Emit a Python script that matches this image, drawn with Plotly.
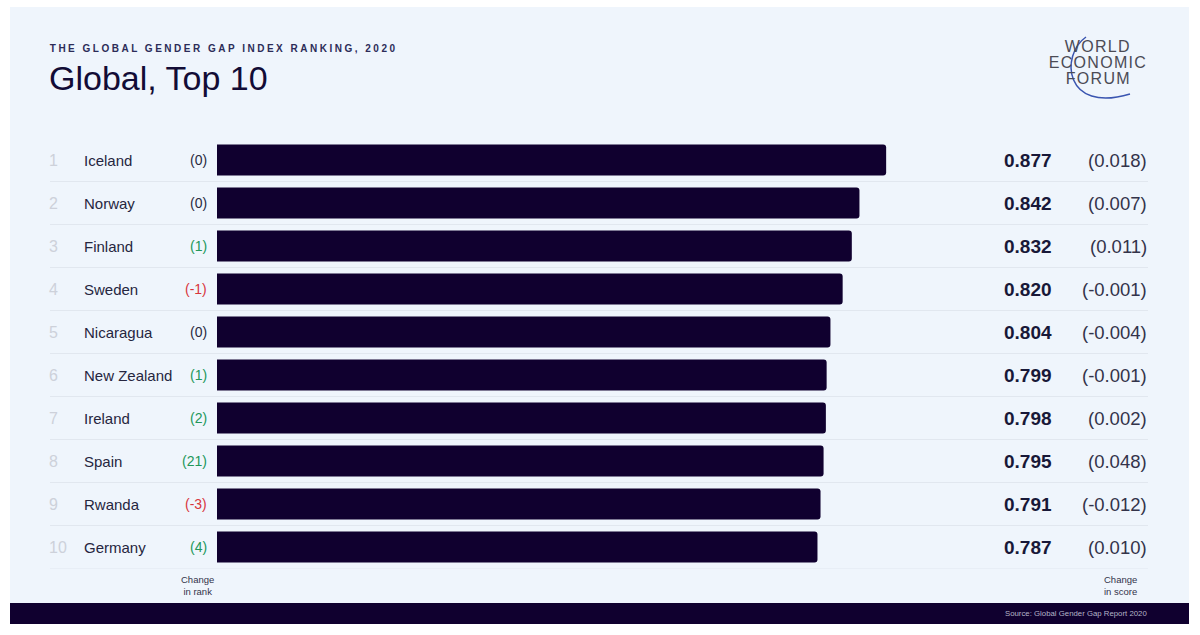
import plotly.graph_objects as go

# Global Gender Gap Index 2020, top 10
ranks = [1, 2, 3, 4, 5, 6, 7, 8, 9, 10]
countries = ["Iceland", "Norway", "Finland", "Sweden", "Nicaragua",
             "New Zealand", "Ireland", "Spain", "Rwanda", "Germany"]
rank_change = [0, 0, 1, -1, 0, 1, 2, 21, -3, 4]
scores = [0.877, 0.842, 0.832, 0.820, 0.804, 0.799, 0.798, 0.795, 0.791, 0.787]
score_change = [0.018, 0.007, 0.011, -0.001, -0.004, -0.001, 0.002, 0.048, -0.012, 0.010]
logo_lines = ["WORLD", "ECONOMIC", "FORUM"]

W, H = 1200, 635
NAVY = "#10002f"
PANEL = "#eff5fc"
FONT = "Liberation Sans, Arial, sans-serif"


def px(x):
    return x / W


def py(y):
    return 1 - y / H


def rank_color(v):
    if v > 0:
        return "#22975a"
    if v < 0:
        return "#d8353d"
    return "#2a2a40"


fig = go.Figure()

fig.add_trace(go.Bar(
    x=scores,
    y=countries,
    orientation="h",
    width=0.72,
    marker=dict(color=NAVY, cornerradius=3, line=dict(width=0)),
    hovertemplate="%{y}: %{x:.3f}<extra></extra>",
))

shapes = [
    # light panel
    dict(type="rect", xref="paper", yref="paper", x0=px(10), x1=px(1189),
         y0=py(603), y1=py(7), fillcolor=PANEL, line=dict(width=0), layer="below"),
    # footer bar
    dict(type="rect", xref="paper", yref="paper", x0=px(10), x1=px(1189),
         y0=py(624), y1=py(603), fillcolor=NAVY, line=dict(width=0), layer="below"),
    # logo arc
    dict(type="path", xref="paper", yref="paper",
         path=f"M {px(1086)},{py(37)} C {px(1060)},{py(55)} {px(1064)},{py(114)} {px(1130)},{py(94)}",
         line=dict(color="#3a55b0", width=1.5)),
]

annotations = []
for i, c in enumerate(countries):
    # row separator
    shapes.append(dict(type="line", xref="paper", yref="y", x0=px(50), x1=px(1148),
                       y0=i + 0.5, y1=i + 0.5, line=dict(color="#e1e7ef", width=1),
                       layer="below"))
    annotations += [
        dict(x=px(47), y=c, xref="paper", yref="y", text=str(ranks[i]), showarrow=False,
             xanchor="left", font=dict(size=16, color="#cdd1da")),
        dict(x=px(82), y=c, xref="paper", yref="y", text=c, showarrow=False,
             xanchor="left", font=dict(size=15, color="#262640")),
        dict(x=px(209), y=c, xref="paper", yref="y", text=f"({rank_change[i]})", showarrow=False,
             xanchor="right", font=dict(size=14, color=rank_color(rank_change[i]))),
        dict(x=px(1054), y=c, xref="paper", yref="y", text=f"<b>{scores[i]:.3f}</b>",
             showarrow=False, xanchor="right", font=dict(size=19, color="#181838")),
        dict(x=px(1149), y=c, xref="paper", yref="y", text=f"({score_change[i]:.3f})",
             showarrow=False, xanchor="right", font=dict(size=18.5, color="#33334a")),
    ]

for j, word in enumerate(logo_lines):
    annotations.append(dict(x=px(1098), y=py(47 + 16 * j), xref="paper", yref="paper", text=word,
                            showarrow=False, xanchor="center", yanchor="middle",
                            font=dict(size=16, color="#4b4b55")))

annotations += [
    dict(x=px(48), y=py(48), xref="paper", yref="paper", text="<b>THE GLOBAL GENDER GAP INDEX RANKING, 2020</b>",
         showarrow=False, xanchor="left", yanchor="middle", font=dict(size=10, color="#2c2c58")),
    dict(x=px(47), y=py(78), xref="paper", yref="paper", text="Global, Top 10",
         showarrow=False, xanchor="left", yanchor="middle", font=dict(size=34, color="#120c36")),
    dict(x=px(197), y=py(585), xref="paper", yref="paper", text="Change<br>in rank",
         showarrow=False, xanchor="center", yanchor="middle", align="center",
         font=dict(size=9.5, color="#33334a")),
    dict(x=px(1120), y=py(585), xref="paper", yref="paper", text="Change<br>in score",
         showarrow=False, xanchor="center", yanchor="middle", align="center",
         font=dict(size=9.5, color="#33334a")),
    dict(x=px(1149), y=py(613.5), xref="paper", yref="paper", text="Source: Global Gender Gap Report 2020",
         showarrow=False, xanchor="right", yanchor="middle",
         font=dict(size=7.8, color="#b4b4c8")),
]

fig.update_layout(
    width=W, height=H,
    margin=dict(l=0, r=0, t=0, b=0),
    paper_bgcolor="white",
    plot_bgcolor="rgba(0,0,0,0)",
    font=dict(family=FONT),
    showlegend=False,
    shapes=shapes,
    annotations=annotations,
    xaxis=dict(domain=[px(217), px(980)], range=[0, 1], visible=False, fixedrange=True),
    yaxis=dict(domain=[py(568.5), py(138.5)], range=[9.5, -0.5], visible=False, fixedrange=True),
)

# no page margin; widen letter spacing of the overline and logo, keeping their anchors
post = """
document.body.style.margin = '0';
function spread(t, sp, keepLeft) {
  var w0 = t.getBBox().width;
  t.style.letterSpacing = sp;
  var w1 = t.getBBox().width;
  if (keepLeft) {
    t.setAttribute('x', parseFloat(t.getAttribute('x') || 0) + (w1 - w0) / 2);
  }
}
document.querySelectorAll('.annotation-text').forEach(function(t){
  var s = t.textContent;
  if (s.indexOf('THE GLOBAL GENDER') === 0) { spread(t, '2.5px', true); }
  if (s === 'WORLD' || s === 'ECONOMIC' || s === 'FORUM') { spread(t, '1.3px', false); }
});
"""

fig.write_html("out.html", post_script=post, config={"displayModeBar": False})
